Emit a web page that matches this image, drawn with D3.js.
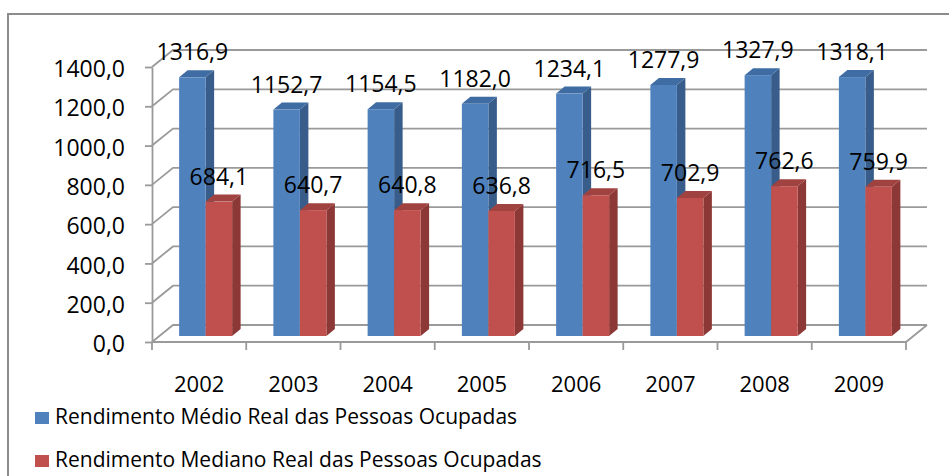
<!DOCTYPE html>
<html>
<head>
<meta charset="utf-8">
<script src="https://cdn.jsdelivr.net/npm/d3@7"></script>
<style>
  body { margin: 0; background: #fff; }
  svg text { font-family: "Open Sans", sans-serif; fill: #000; }
</style>
</head>
<body>
<div id="chart"></div>
<script>
// data
const years = ['2002', '2003', '2004', '2005', '2006', '2007', '2008', '2009'];
const medio = [1316.9, 1152.7, 1154.5, 1182.0, 1234.1, 1277.9, 1327.9, 1318.1];
const mediano = [684.1, 640.7, 640.8, 636.8, 716.5, 702.9, 762.6, 759.9];
const yTicks = [0, 200, 400, 600, 800, 1000, 1200, 1400];
const seriesNames = [
  'Rendimento Médio Real das Pessoas Ocupadas',
  'Rendimento Mediano Real das Pessoas Ocupadas'
];

const width = 949;
const height = 476;

// front plane of the 3d box
const plot = { left: 152, right: 906, top: 67, bottom: 342 };
// depth offsets: back wall, bar front face, bar thickness
const wall = { dx: 21, dy: -17 };
const front = { dx: 6.5, dy: -6 };
const depth = { dx: 8.5, dy: -7 };

const colors = [
  { face: '#4f81bd', side: '#385d8a', top: '#3f6ca3' },
  { face: '#c0504d', side: '#8c3836', top: '#a0423f' }
];

const pt = d3.formatLocale({ decimal: ',', thousands: '.', grouping: [3], currency: ['R$', ''] });
const fmt = pt.format('.1f');

const svg = d3.select('#chart').append('svg')
  .attr('width', width)
  .attr('height', height);

// outer frame (right and bottom edge fall outside the picture)
svg.append('rect')
  .attr('x', 8).attr('y', 14)
  .attr('width', 960).attr('height', 500)
  .attr('fill', 'none')
  .attr('stroke', '#8c8c8c')
  .attr('stroke-width', 2);

const x = d3.scaleBand()
  .domain(years)
  .range([plot.left, plot.right])
  .paddingInner(0.4377)
  .paddingOuter(0.4377 / 2);

const x1 = d3.scaleBand()
  .domain([0, 1])
  .range([0, x.bandwidth()]);

const y = d3.scaleLinear()
  .domain([0, 1400])
  .range([plot.bottom, plot.top]);

// gridlines on the side wall and back wall
svg.append('g')
  .selectAll('path')
  .data(yTicks)
  .join('path')
  .attr('d', (t) => `M${plot.left},${y(t)}L${plot.left + wall.dx},${y(t) + wall.dy}L${plot.right + wall.dx},${y(t) + wall.dy}`)
  .attr('fill', 'none')
  .attr('stroke', '#9a9a9a')
  .attr('stroke-width', 1.8);

// floor front edge
svg.append('path')
  .attr('d', `M${plot.left},${plot.bottom}L${plot.right},${plot.bottom}L${plot.right + wall.dx},${plot.bottom + wall.dy}`)
  .attr('fill', 'none')
  .attr('stroke', '#9a9a9a')
  .attr('stroke-width', 1.8);

// category tick marks at the boundaries
svg.append('g')
  .selectAll('line')
  .data(d3.range(years.length + 1))
  .join('line')
  .attr('x1', (i) => x.range()[0] + i * x.step())
  .attr('x2', (i) => x.range()[0] + i * x.step())
  .attr('y1', plot.bottom)
  .attr('y2', plot.bottom + 8)
  .attr('stroke', '#9a9a9a')
  .attr('stroke-width', 1.8);

// y axis
const yAxis = svg.append('g')
  .attr('transform', `translate(${plot.left},0)`)
  .call(d3.axisLeft(y).tickValues(yTicks).tickFormat(fmt).tickSizeInner(7).tickSizeOuter(0).tickPadding(20));
yAxis.select('.domain').attr('stroke', '#9a9a9a').attr('stroke-width', 1.8);
yAxis.selectAll('.tick line').attr('stroke', '#9a9a9a').attr('stroke-width', 1.8);
yAxis.selectAll('.tick text')
  .attr('dy', '0.42em')
  .style('font-family', '"Open Sans", sans-serif')
  .style('font-size', '23px')
  .attr('fill', '#000');

// x axis labels
const xAxis = svg.append('g')
  .attr('transform', `translate(0,${plot.bottom})`)
  .call(d3.axisBottom(x).tickSize(0).tickPadding(34));
xAxis.select('.domain').remove();
xAxis.selectAll('.tick text')
  .style('font-family', '"Open Sans", sans-serif')
  .style('font-size', '22px')
  .attr('fill', '#000');

// 3d bars
const bars = [];
years.forEach((yr, i) => {
  [medio[i], mediano[i]].forEach((v, s) => {
    bars.push({ year: yr, s, v });
  });
});

const barG = svg.append('g');
bars.forEach((b) => {
  const x0 = x(b.year) + x1(b.s) + front.dx;
  const w = x1.bandwidth();
  const yt = y(b.v) + front.dy;
  const yb = y(0) + front.dy;
  const c = colors[b.s];
  const g = barG.append('g');
  g.append('path')
    .attr('d', `M${x0 + w},${yt}L${x0 + w + depth.dx},${yt + depth.dy}L${x0 + w + depth.dx},${yb + depth.dy}L${x0 + w},${yb}Z`)
    .attr('fill', c.side);
  g.append('path')
    .attr('d', `M${x0},${yt}L${x0 + w},${yt}L${x0 + w + depth.dx},${yt + depth.dy}L${x0 + depth.dx},${yt + depth.dy}Z`)
    .attr('fill', c.top);
  g.append('rect')
    .attr('x', x0)
    .attr('y', yt)
    .attr('width', w)
    .attr('height', yb - yt)
    .attr('fill', c.face);
});

// value labels
svg.append('g')
  .selectAll('text')
  .data(bars)
  .join('text')
  .attr('x', (d) => x(d.year) + x1(d.s) + front.dx + x1.bandwidth() / 2)
  .attr('y', (d) => y(d.v) + front.dy - 17)
  .attr('text-anchor', 'middle')
  .style('font-size', '23px')
  .text((d) => fmt(d.v));

// legend
const legend = svg.append('g')
  .selectAll('g')
  .data(seriesNames)
  .join('g')
  .attr('transform', (d, i) => `translate(35,${412 + i * 43})`);
legend.append('rect')
  .attr('width', 14)
  .attr('height', 12)
  .attr('fill', (d, i) => colors[i].face);
legend.append('text')
  .attr('x', 20)
  .attr('y', 12)
  .style('font-size', '21px')
  .text((d) => d);
</script>
</body>
</html>
